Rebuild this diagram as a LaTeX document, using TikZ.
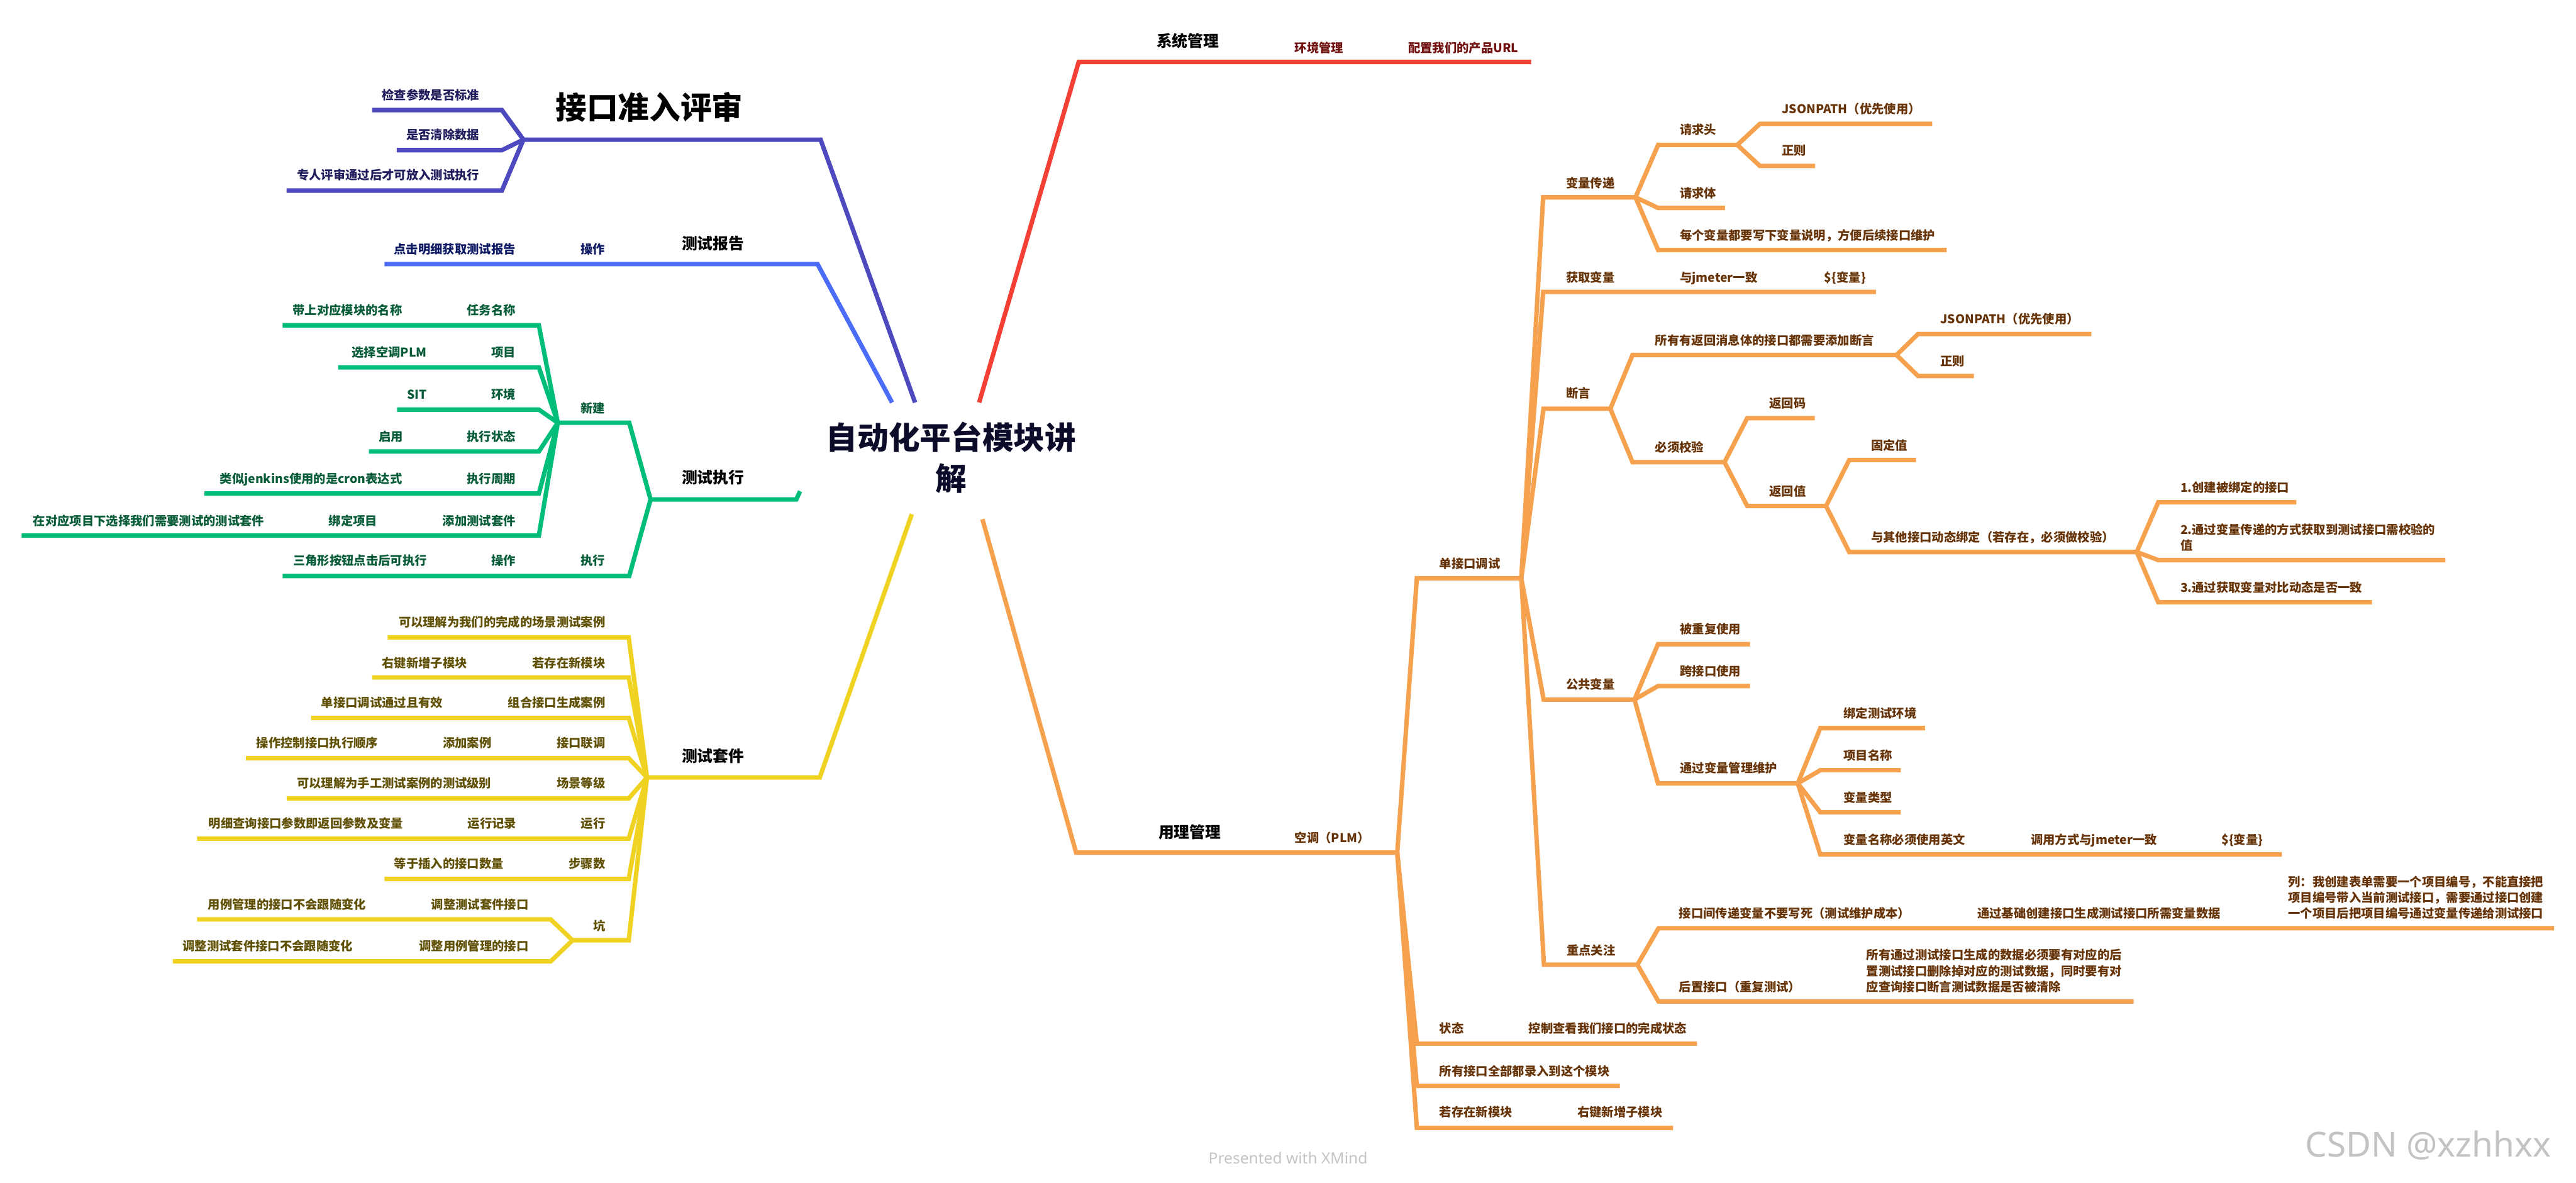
\documentclass[tikz,border=0pt]{standalone}
\usepackage{fontspec}
\setmainfont{Noto Sans CJK SC}
\newfontfamily\wmfont{Noto Sans}
\definecolor{cInd}{RGB}{76,74,190}
\definecolor{cBlu}{RGB}{74,108,247}
\definecolor{cGrn}{RGB}{0,190,122}
\definecolor{cYel}{RGB}{240,211,34}
\definecolor{cRed}{RGB}{244,64,52}
\definecolor{cOrg}{RGB}{246,161,78}
\definecolor{tInd}{RGB}{32,30,92}
\definecolor{tBlu}{RGB}{14,26,100}
\definecolor{tGrn}{RGB}{8,92,56}
\definecolor{tYel}{RGB}{96,80,6}
\definecolor{tRed}{RGB}{112,16,16}
\definecolor{tOrg}{RGB}{102,52,8}
\definecolor{tRoot}{RGB}{12,12,42}
\newcommand\tp[4]{\coordinate (#1-s) at (#2,#4); \coordinate (#1-e) at (#3,#4);}
\tikzset{
  br/.style={line width=2.7pt},
  sm/.style={inner sep=0pt, font=\bfseries\fontsize{7.4}{9.4}\selectfont, text height=6.5pt, text depth=0.9pt},
  ml/.style={inner sep=0pt, font=\bfseries\fontsize{7.4}{9.6}\selectfont, align=left},
  mid/.style={inner sep=0pt, font=\bfseries\fontsize{9.5}{11}\selectfont, text height=8.4pt, text depth=1.1pt, text=black},
  big/.style={inner sep=0pt, font=\bfseries\fontsize{19}{25}\selectfont},
  L/.style={sm, anchor=east},
  R/.style={sm, anchor=west},
}
\begin{document}
\begin{tikzpicture}[x=1pt,y=-1pt]
\useasboundingbox (0,0) rectangle (1568,720);

% ---------- root ----------
\node[big, text=tRoot, align=center] (root) at (579,278.5) {自动化平台模块讲\\解};
\coordinate (rInd) at (557,245);
\coordinate (rBlu) at (543,245);
\coordinate (rRed) at (596,245);
\coordinate (rYel) at (555,313);
\coordinate (rGrn) at (487,299);
\coordinate (rOrg) at (598,316);

% ---------- topic coordinates ----------
% indigo
\tp{jk}{499.5}{318.6}{85}
\tp{jkA}{305.5}{226.6}{67}
\tp{jkB}{305.5}{241.5}{91.4}
\tp{jkC}{305.5}{174.4}{116}
% blue
\tp{bg}{497.6}{234}{160.7}
% green
\tp{zx}{484.7}{396}{304}
\tp{xj}{383}{339.5}{257.3}
\tp{rw}{328}{172}{198}
\tp{xm}{328}{205.8}{223.6}
\tp{hj}{328}{241.7}{249.3}
\tp{zt}{328}{224.6}{274.8}
\tp{zq}{328}{124.4}{300.4}
\tp{tj}{328}{13.2}{326}
\tp{zxx}{383}{172}{350.6}
% yellow
\tp{tk}{499}{393.8}{473.2}
\tp{ka}{382.7}{236}{388}
\tp{kb}{382.7}{226.6}{412.3}
\tp{kc}{382.7}{189.3}{437}
\tp{kd}{382.7}{149.7}{461.5}
\tp{ke}{382.7}{174.5}{486}
\tp{kf}{382.7}{120}{510.4}
\tp{kg}{382.7}{234}{535}
\tp{kh}{382.7}{348.5}{572.3}
\tp{kha}{335.2}{120}{559.6}
\tp{khb}{335.2}{105.2}{585.2}
% red
\tp{xt}{656.6}{932}{37.7}
% orange
\tp{yl}{655}{850.5}{519}
\tp{dj}{862.4}{926}{352}
\tp{st}{862.4}{1033}{635.2}
\tp{sy}{862.4}{986}{661}
\tp{rc}{862.4}{1018.4}{686.5}
\tp{bl}{939.3}{995.5}{120.1}
\tp{qt}{1009.3}{1057.5}{88.2}
\tp{jp}{1071.2}{1176.1}{75.4}
\tp{zz}{1071.2}{1104.8}{101}
\tp{qb}{1009.3}{1050}{126.6}
\tp{mg}{1009.3}{1184.9}{152.2}
\tp{hq}{939.3}{1141.9}{177.7}
\tp{dy}{939.5}{980.2}{248.8}
\tp{sx}{993.7}{1154.4}{216.1}
\tp{jpb}{1167.5}{1273}{203.3}
\tp{zzb}{1167.5}{1201.5}{228.9}
\tp{bx}{993.7}{1049.7}{281.3}
\tp{fm}{1063.5}{1104.6}{254.5}
\tp{fz}{1063.5}{1111.5}{308}
\tp{gd}{1125.6}{1166.3}{280}
\tp{qd}{1125.6}{1300.6}{336}
\tp{nA}{1313.7}{1397.8}{305.7}
\tp{nB}{1313.7}{1488.5}{340.9}
\tp{nC}{1313.7}{1443.8}{366.6}
\tp{gg}{939.6}{994.9}{425.8}
\tp{cf}{1009.2}{1065.2}{392.1}
\tp{kj}{1009.2}{1065.2}{417.6}
\tp{gl}{1009.2}{1094.3}{476.8}
\tp{bd}{1108}{1171.7}{443.2}
\tp{xmm}{1108}{1157}{468.8}
\tp{lx}{1108}{1157}{494.4}
\tp{yw}{1108}{1389}{520.1}
\tp{zd}{939.8}{996.7}{587.2}
\tp{jc}{1009.5}{1554.6}{565}
\tp{hz}{1009.5}{1298.7}{609.6}

% ---------- connectors ----------
\begin{scope}[br, cInd]
\draw (rInd) -- (jk-s) -- (jk-e);
\foreach \c in {jkA,jkB,jkC} \draw (jk-e) -- (\c-s) -- (\c-e);
\end{scope}
\draw[br, cBlu] (rBlu) -- (bg-s) -- (bg-e);
\begin{scope}[br, cGrn]
\draw (rGrn) -- (zx-s) -- (zx-e);
\foreach \c in {xj,zxx} \draw (zx-e) -- (\c-s) -- (\c-e);
\foreach \c in {rw,xm,hj,zt,zq,tj} \draw (xj-e) -- (\c-s) -- (\c-e);
\end{scope}
\begin{scope}[br, cYel]
\draw (rYel) -- (tk-s) -- (tk-e);
\foreach \c in {ka,kb,kc,kd,ke,kf,kg,kh} \draw (tk-e) -- (\c-s) -- (\c-e);
\foreach \c in {kha,khb} \draw (kh-e) -- (\c-s) -- (\c-e);
\end{scope}
\draw[br, cRed] (rRed) -- (xt-s) -- (xt-e);
\begin{scope}[br, cOrg]
\draw (rOrg) -- (yl-s) -- (yl-e);
\foreach \c in {dj,st,sy,rc} \draw (yl-e) -- (\c-s) -- (\c-e);
\foreach \c in {bl,hq,dy,gg,zd} \draw (dj-e) -- (\c-s) -- (\c-e);
\foreach \c in {qt,qb,mg} \draw (bl-e) -- (\c-s) -- (\c-e);
\foreach \c in {jp,zz} \draw (qt-e) -- (\c-s) -- (\c-e);
\foreach \c in {sx,bx} \draw (dy-e) -- (\c-s) -- (\c-e);
\foreach \c in {jpb,zzb} \draw (sx-e) -- (\c-s) -- (\c-e);
\foreach \c in {fm,fz} \draw (bx-e) -- (\c-s) -- (\c-e);
\foreach \c in {gd,qd} \draw (fz-e) -- (\c-s) -- (\c-e);
\foreach \c in {nA,nB,nC} \draw (qd-e) -- (\c-s) -- (\c-e);
\foreach \c in {cf,kj,gl} \draw (gg-e) -- (\c-s) -- (\c-e);
\foreach \c in {bd,xmm,lx,yw} \draw (gl-e) -- (\c-s) -- (\c-e);
\foreach \c in {jc,hz} \draw (zd-e) -- (\c-s) -- (\c-e);
\end{scope}

% ---------- texts: indigo ----------
\node[big, text=black] (n-jk) at (395.3,65.3) {接口准入评审};
\node[L, text=tInd] (n-jkA) at (292,58) {检查参数是否标准};
\node[L, text=tInd] (n-jkB) at (292,82) {是否清除数据};
\node[L, text=tInd] (n-jkC) at (292,106.6) {专人评审通过后才可放入测试执行};
% blue
\node[mid] (n-bg) at (434,148) {测试报告};
\node[L, text=tBlu] (n-bg1) at (368.4,151.5) {操作};
\node[L, text=tBlu] (n-bg2) at (314,151.5) {点击明细获取测试报告};
% green
\node[mid] (n-zx) at (434,290.6) {测试执行};
\node[L, text=tGrn] (n-xj) at (368.4,248.4) {新建};
\node[L, text=tGrn] (n-rw) at (314,188.8) {任务名称};
\node[L, text=tGrn] (n-rw1) at (245,188.8) {带上对应模块的名称};
\node[L, text=tGrn] (n-xm) at (314,214.3) {项目};
\node[L, text=tGrn] (n-xm1) at (260,214.3) {选择空调PLM};
\node[L, text=tGrn] (n-hj) at (314,240) {环境};
\node[L, text=tGrn] (n-hj1) at (260,240) {SIT};
\node[L, text=tGrn] (n-zt) at (314,265.7) {执行状态};
\node[L, text=tGrn] (n-zt1) at (245.6,265.7) {启用};
\node[L, text=tGrn] (n-zq) at (314,291.5) {执行周期};
\node[L, text=tGrn] (n-zq1) at (245,291.5) {类似jenkins使用的是cron表达式};
\node[L, text=tGrn] (n-tj) at (314,317) {添加测试套件};
\node[L, text=tGrn] (n-tj1) at (230,317) {绑定项目};
\node[L, text=tGrn] (n-tj2) at (161,317) {在对应项目下选择我们需要测试的测试套件};
\node[L, text=tGrn] (n-zxx) at (368.4,341) {执行};
\node[L, text=tGrn] (n-zxx1) at (314,341) {操作};
\node[L, text=tGrn] (n-zxx2) at (260,341) {三角形按钮点击后可执行};
% yellow
\node[mid] (n-tk) at (434,460) {测试套件};
\node[L, text=tYel] (n-ka) at (368.7,378.6) {可以理解为我们的完成的场景测试案例};
\node[L, text=tYel] (n-kb) at (368.7,403.4) {若存在新模块};
\node[L, text=tYel] (n-kb1) at (284.5,403.4) {右键新增子模块};
\node[L, text=tYel] (n-kc) at (368.7,427.6) {组合接口生成案例};
\node[L, text=tYel] (n-kc1) at (269.8,427.6) {单接口调试通过且有效};
\node[L, text=tYel] (n-kd) at (368.7,452) {接口联调};
\node[L, text=tYel] (n-kd1) at (299.3,452) {添加案例};
\node[L, text=tYel] (n-kd2) at (230.3,452) {操作控制接口执行顺序};
\node[L, text=tYel] (n-ke) at (368.7,476.7) {场景等级};
\node[L, text=tYel] (n-ke1) at (299.3,476.7) {可以理解为手工测试案例的测试级别};
\node[L, text=tYel] (n-kf) at (368.7,501.2) {运行};
\node[L, text=tYel] (n-kf1) at (314.6,501.2) {运行记录};
\node[L, text=tYel] (n-kf2) at (245.6,501.2) {明细查询接口参数即返回参数及变量};
\node[L, text=tYel] (n-kg) at (368.7,525.7) {步骤数};
\node[L, text=tYel] (n-kg1) at (306.8,525.7) {等于插入的接口数量};
\node[L, text=tYel] (n-kh) at (368.7,563.4) {坑};
\node[L, text=tYel] (n-kha) at (322,550.5) {调整测试套件接口};
\node[L, text=tYel] (n-kha1) at (223,550.5) {用例管理的接口不会跟随变化};
\node[L, text=tYel] (n-khb) at (322,576) {调整用例管理的接口};
\node[L, text=tYel] (n-khb1) at (215,576) {调整测试套件接口不会跟随变化};
% red
\node[mid] (n-xt) at (723,25) {系统管理};
\node[R, text=tRed] (n-xt1) at (788,29) {环境管理};
\node[R, text=tRed] (n-xt2) at (857,29) {配置我们的产品URL};
% orange
\node[mid, anchor=west] (n-yl) at (705,506.3) {用理管理};
\node[R, text=tOrg] (n-kt) at (788,510) {空调（PLM）};
\node[R, text=tOrg] (n-dj) at (876,343) {单接口调试};
\node[R, text=tOrg] (n-st) at (876,626) {状态};
\node[R, text=tOrg] (n-st1) at (930.4,626) {控制查看我们接口的完成状态};
\node[R, text=tOrg] (n-sy) at (876,651.8) {所有接口全部都录入到这个模块};
\node[R, text=tOrg] (n-rc) at (876,677) {若存在新模块};
\node[R, text=tOrg] (n-rc1) at (960,677) {右键新增子模块};
\node[R, text=tOrg] (n-bl) at (953,111.3) {变量传递};
\node[R, text=tOrg] (n-qt) at (1022.4,79.1) {请求头};
\node[R, text=tOrg] (n-jp) at (1084.5,66.4) {JSONPATH（优先使用）};
\node[R, text=tOrg] (n-zz) at (1084.5,91.7) {正则};
\node[R, text=tOrg] (n-qb) at (1022.4,117.7) {请求体};
\node[R, text=tOrg] (n-mg) at (1022.4,143.1) {每个变量都要写下变量说明，方便后续接口维护};
\node[R, text=tOrg] (n-hq) at (953,168.7) {获取变量};
\node[R, text=tOrg] (n-hq1) at (1022.4,168.7) {与jmeter一致};
\node[R, text=tOrg] (n-hq2) at (1110.3,168.7) {\$\{变量\}};
\node[R, text=tOrg] (n-dy) at (953,239.4) {断言};
\node[R, text=tOrg] (n-sx) at (1007.3,207.1) {所有有返回消息体的接口都需要添加断言};
\node[R, text=tOrg] (n-jpb) at (1181,194.2) {JSONPATH（优先使用）};
\node[R, text=tOrg] (n-zzb) at (1181,219.7) {正则};
\node[R, text=tOrg] (n-bx) at (1007.3,272.1) {必须校验};
\node[R, text=tOrg] (n-fm) at (1076.8,245.4) {返回码};
\node[R, text=tOrg] (n-fz) at (1076.8,298.9) {返回值};
\node[R, text=tOrg] (n-gd) at (1138.7,271) {固定值};
\node[R, text=tOrg] (n-qd) at (1138.7,327) {与其他接口动态绑定（若存在，必须做校验）};
\node[R, text=tOrg] (n-nA) at (1327,296.8) {1.创建被绑定的接口};
\node[ml, anchor=west, text=tOrg] (n-nB) at (1327,327) {2.通过变量传递的方式获取到测试接口需校验的\\值};
\node[R, text=tOrg] (n-nC) at (1327,357.5) {3.通过获取变量对比动态是否一致};
\node[R, text=tOrg] (n-gg) at (953,416.6) {公共变量};
\node[R, text=tOrg] (n-cf) at (1022.5,383) {被重复使用};
\node[R, text=tOrg] (n-kj) at (1022.5,408.4) {跨接口使用};
\node[R, text=tOrg] (n-gl) at (1022.5,467.6) {通过变量管理维护};
\node[R, text=tOrg] (n-bd) at (1122,434.2) {绑定测试环境};
\node[R, text=tOrg] (n-xmm) at (1122,459.7) {项目名称};
\node[R, text=tOrg] (n-lx) at (1122,485.5) {变量类型};
\node[R, text=tOrg] (n-yw) at (1122,511) {变量名称必须使用英文};
\node[R, text=tOrg] (n-yw1) at (1236,511) {调用方式与jmeter一致};
\node[R, text=tOrg] (n-yw2) at (1352,511) {\$\{变量\}};
\node[R, text=tOrg] (n-zd) at (953.4,578.5) {重点关注};
\node[R, text=tOrg] (n-jc) at (1021.8,555.8) {接口间传递变量不要写死（测试维护成本）};
\node[R, text=tOrg] (n-jc1) at (1203.4,555.8) {通过基础创建接口生成测试接口所需变量数据};
\node[ml, anchor=west, text=tOrg] (n-jc2) at (1392.6,546.3) {列：我创建表单需要一个项目编号，不能直接把\\项目编号带入当前测试接口，需要通过接口创建\\一个项目后把项目编号通过变量传递给测试接口};
\node[R, text=tOrg] (n-hz) at (1021.8,600.7) {后置接口（重复测试）};
\node[ml, anchor=west, text=tOrg, font=\bfseries\fontsize{7.4}{9.75}\selectfont] (n-hz1) at (1135.9,591) {所有通过测试接口生成的数据必须要有对应的后\\置测试接口删除掉对应的测试数据，同时要有对\\应查询接口断言测试数据是否被清除};

% ---------- watermarks ----------
\node[inner sep=0pt, font=\wmfont\fontsize{9.4}{11}\selectfont, text={rgb,255:red,196;green,196;blue,196}] (wm1) at (784,705) {Presented with XMind};
\node[inner sep=0pt, font=\wmfont\fontsize{21}{24}\selectfont, text={rgb,255:red,195;green,195;blue,195}] (wm2) at (1478,697) {CSDN @xzhhxx};
\end{tikzpicture}
\end{document}
